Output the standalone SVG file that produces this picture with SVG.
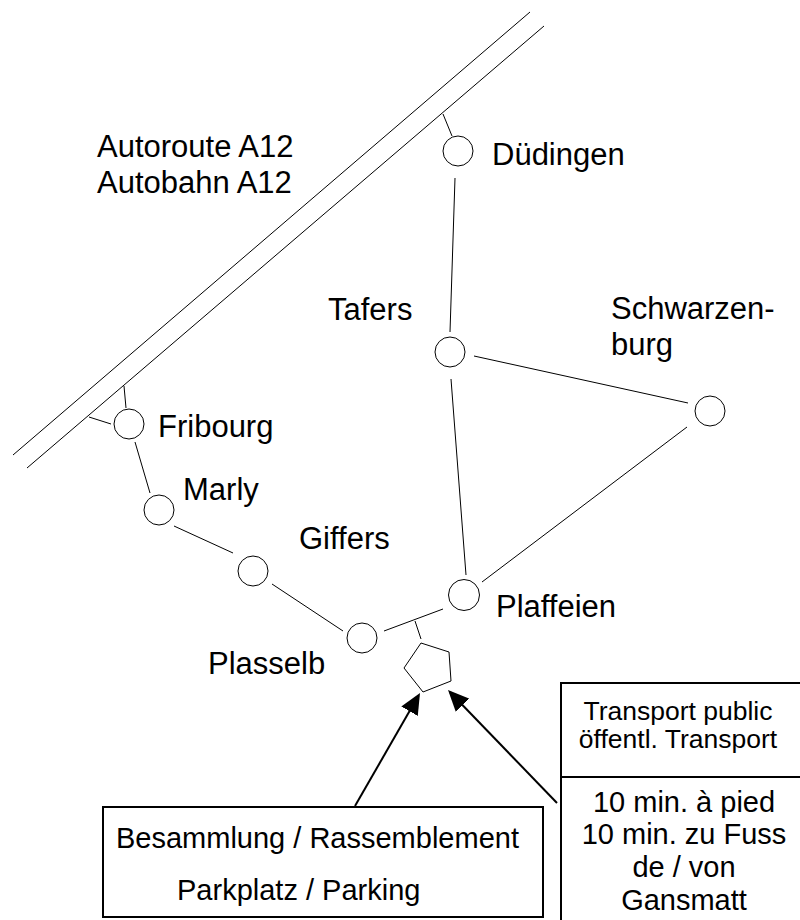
<svg xmlns="http://www.w3.org/2000/svg" width="800" height="920" viewBox="0 0 800 920">
<defs>
<style>
.t{font-family:"Liberation Sans",Arial,sans-serif;fill:#000}
.lab{font-size:31px}
.box{font-size:29px}
.sm{font-size:26.5px}
.ln{stroke:#000;stroke-width:1;fill:none}
.nd{stroke:#000;stroke-width:1;fill:#fff}
.bx{stroke:#000;stroke-width:2;fill:#fff}
.ar{stroke:#000;stroke-width:2;fill:none}
</style>
<marker id="ah" viewBox="0 0 21 19" refX="18" refY="9.5" markerWidth="21" markerHeight="19" markerUnits="userSpaceOnUse" orient="auto">
<path d="M0,0 L21,9.5 L0,19 Z" fill="#000"/>
</marker>
</defs>
<rect width="800" height="920" fill="#fff"/>
<g id="highway">
<line class="ln" x1="13" y1="455" x2="530" y2="12"/>
<line class="ln" x1="27" y1="468" x2="544" y2="26"/>
<text class="t lab" x="97" y="157">Autoroute A12</text>
<text class="t lab" x="97" y="193">Autobahn A12</text>
</g>
<g id="connectors">
<line class="ln" x1="443" y1="114" x2="452" y2="136"/>
<line class="ln" x1="455" y1="178" x2="450" y2="332"/>
<line class="ln" x1="451" y1="379" x2="466" y2="575"/>
<line class="ln" x1="474" y1="356" x2="688" y2="403"/>
<line class="ln" x1="687" y1="427" x2="482" y2="582"/>
<line class="ln" x1="124" y1="386" x2="126" y2="408"/>
<line class="ln" x1="89" y1="417" x2="111" y2="424"/>
<line class="ln" x1="135" y1="442" x2="150" y2="493"/>
<line class="ln" x1="174" y1="526" x2="233" y2="553"/>
<line class="ln" x1="272" y1="584" x2="343" y2="631"/>
<line class="ln" x1="384" y1="631" x2="443" y2="609"/>
<line class="ln" x1="415" y1="621" x2="421" y2="639"/>
<line class="ar" x1="355" y1="806" x2="418.5" y2="695.6" marker-end="url(#ah)"/>
<line class="ar" x1="557" y1="803" x2="450.1" y2="692.2" marker-end="url(#ah)"/>
</g>
<g id="dudingen"><circle class="nd" cx="458" cy="151" r="15"/><text class="t lab" x="492" y="165">Düdingen</text></g>
<g id="tafers"><circle class="nd" cx="450" cy="352" r="15"/><text class="t lab" x="328" y="320">Tafers</text></g>
<g id="schwarzenburg"><circle class="nd" cx="710" cy="411" r="15"/><text class="t lab" x="611" y="319">Schwarzen-</text><text class="t lab" x="611" y="355">burg</text></g>
<g id="fribourg"><circle class="nd" cx="129" cy="424" r="15"/><text class="t lab" x="158" y="437">Fribourg</text></g>
<g id="marly"><circle class="nd" cx="159" cy="510" r="15"/><text class="t lab" x="183" y="500">Marly</text></g>
<g id="giffers"><circle class="nd" cx="253" cy="571" r="15"/><text class="t lab" x="299" y="549">Giffers</text></g>
<g id="plasselb"><circle class="nd" cx="362" cy="638" r="15"/><text class="t lab" x="208" y="674">Plasselb</text></g>
<g id="plaffeien"><circle class="nd" cx="464" cy="595" r="15.5"/><text class="t lab" x="496" y="617">Plaffeien</text></g>
<g id="meeting"><polygon class="nd" points="421,643 449,652 451,681 423,692 404,668"/></g>
<g id="box-parking">
<rect class="bx" x="103" y="807" width="440" height="110"/>
<text class="t box" x="116" y="848">Besammlung / Rassemblement</text>
<text class="t box" x="177" y="900">Parkplatz / Parking</text>
</g>
<g id="box-transport">
<rect class="bx" x="561" y="683" width="260" height="260"/>
<line class="bx" x1="561" y1="777" x2="800" y2="777"/>
<text class="t sm" x="678" y="720" text-anchor="middle">Transport public</text>
<text class="t sm" x="678" y="748" text-anchor="middle">öffentl. Transport</text>
<text class="t box" x="684" y="812" text-anchor="middle">10 min. à pied</text>
<text class="t box" x="684" y="844" text-anchor="middle">10 min. zu Fuss</text>
<text class="t box" x="684" y="877" text-anchor="middle">de / von</text>
<text class="t box" x="684" y="910" text-anchor="middle">Gansmatt</text>
</g>
</svg>
